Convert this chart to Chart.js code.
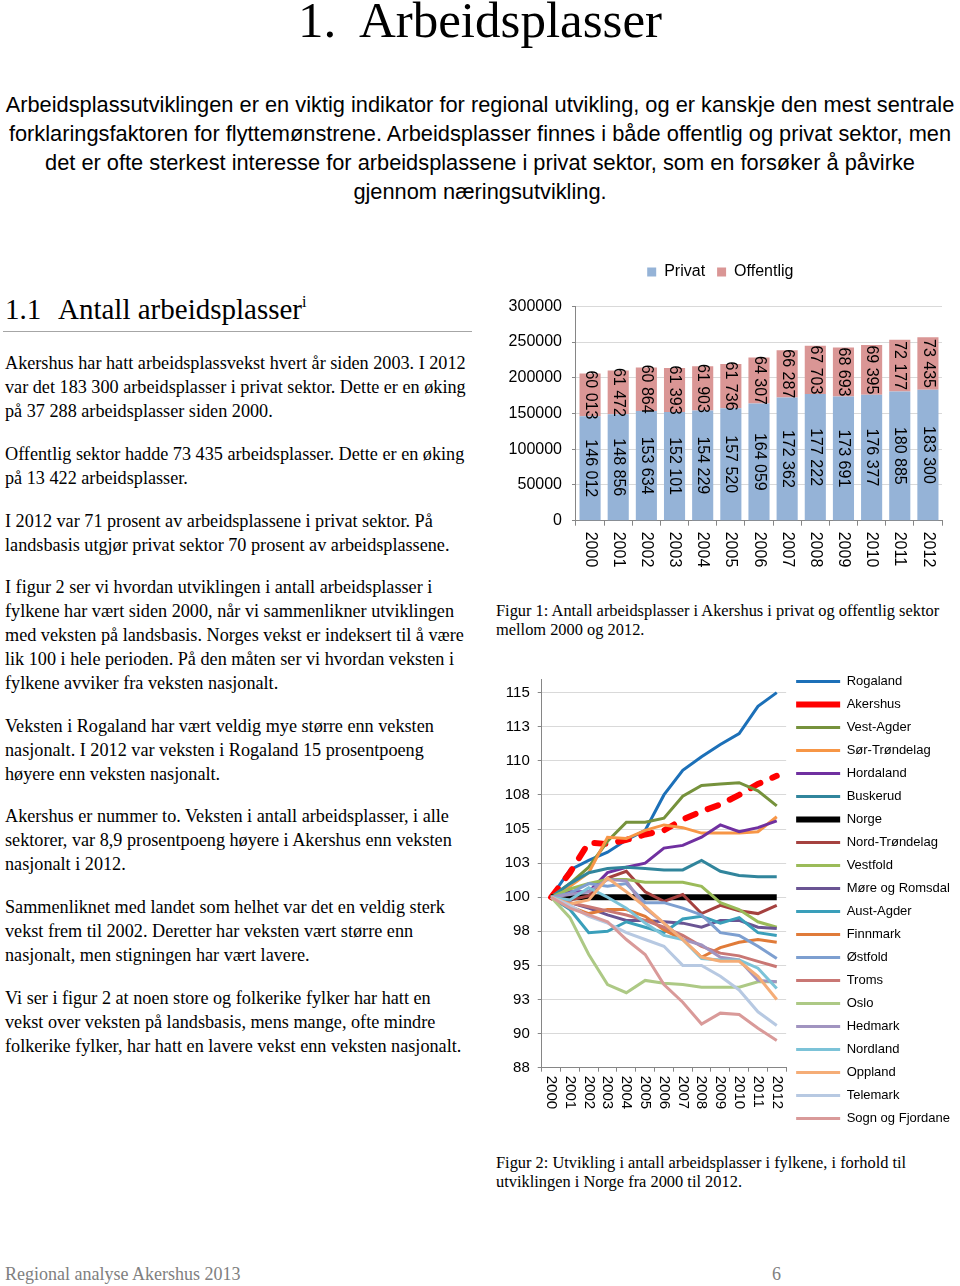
<!DOCTYPE html>
<html lang="no">
<head>
<meta charset="utf-8">
<title>Arbeidsplasser</title>
<script src="https://cdn.jsdelivr.net/npm/chart.js@4.4.0/dist/chart.umd.min.js"></script>
<style>
  html, body { margin: 0; padding: 0; background: #fff; }
  body { width: 960px; height: 1286px; position: relative; overflow: hidden; color: #000;
         font-family: "Liberation Serif", "Times New Roman", serif; }
  .abs { position: absolute; white-space: nowrap; }
  #title { left: 0; width: 960px; top: -5px; text-align: center; font-size: 51px; line-height: 50px; }
  #intro { left: 0; width: 960px; top: 90px; text-align: center; font-size: 21.8px; line-height: 29px;
           font-family: "Liberation Sans", Arial, sans-serif; }
  #h2 { left: 5px; top: 291px; font-size: 29px; line-height: 36px; }
  #h2 .num { display: inline-block; width: 53px; }
  #h2 .sup { font-size: 16px; position: relative; top: -12px; }
  #rule { position: absolute; left: 3px; top: 331px; width: 469px; border-top: 1.5px solid #a6a6a6; }
  .para { position: absolute; left: 5px; font-size: 18.2px; line-height: 24.2px; }
  .para span { display: block; white-space: nowrap; }
  .cap { position: absolute; left: 496px; font-size: 16.4px; line-height: 19px; white-space: nowrap; }
  #foot { left: 5px; top: 1264px; font-size: 18px; line-height: 20px; color: #808080; }
  #page { left: 772px; top: 1264px; font-size: 18px; line-height: 20px; color: #808080; }
  #barChart { position: absolute; left: 495px; top: 252px; }
  #lineChart { position: absolute; left: 495px; top: 665px; }
</style>
</head>
<body>
<div id="title" class="abs">1.&nbsp; Arbeidsplasser</div>
<div id="intro" class="abs">Arbeidsplassutviklingen er en viktig indikator for regional utvikling, og er kanskje den mest sentrale<br>forklaringsfaktoren for flyttemønstrene. Arbeidsplasser finnes i både offentlig og privat sektor, men<br>det er ofte sterkest interesse for arbeidsplassene i privat sektor, som en forsøker å påvirke<br>gjennom næringsutvikling.</div>

<div id="h2" class="abs"><span class="num">1.1</span>Antall arbeidsplasser<span class="sup">i</span></div>
<div id="rule"></div>

<div class="para" style="top:350.5px">
  <span>Akershus har hatt arbeidsplassvekst hvert år siden 2003. I 2012</span>
  <span>var det 183 300 arbeidsplasser i privat sektor. Dette er en øking</span>
  <span>på 37 288 arbeidsplasser siden 2000.</span>
</div>
<div class="para" style="top:441.5px">
  <span>Offentlig sektor hadde 73 435 arbeidsplasser. Dette er en øking</span>
  <span>på 13 422 arbeidsplasser.</span>
</div>
<div class="para" style="top:508.5px">
  <span>I 2012 var 71 prosent av arbeidsplassene i privat sektor. På</span>
  <span>landsbasis utgjør privat sektor 70 prosent av arbeidsplassene.</span>
</div>
<div class="para" style="top:574.5px">
  <span>I figur 2 ser vi hvordan utviklingen i antall arbeidsplasser i</span>
  <span>fylkene har vært siden 2000, når vi sammenlikner utviklingen</span>
  <span>med veksten på landsbasis. Norges vekst er indeksert til å være</span>
  <span>lik 100 i hele perioden. På den måten ser vi hvordan veksten i</span>
  <span>fylkene avviker fra veksten nasjonalt.</span>
</div>
<div class="para" style="top:713.5px">
  <span>Veksten i Rogaland har vært veldig mye større enn veksten</span>
  <span>nasjonalt. I 2012 var veksten i Rogaland 15 prosentpoeng</span>
  <span>høyere enn veksten nasjonalt.</span>
</div>
<div class="para" style="top:803.5px">
  <span>Akershus er nummer to. Veksten i antall arbeidsplasser, i alle</span>
  <span>sektorer, var 8,9 prosentpoeng høyere i Akershus enn veksten</span>
  <span>nasjonalt i 2012.</span>
</div>
<div class="para" style="top:894.5px">
  <span>Sammenliknet med landet som helhet var det en veldig sterk</span>
  <span>vekst frem til 2002. Deretter har veksten vært større enn</span>
  <span>nasjonalt, men stigningen har vært lavere.</span>
</div>
<div class="para" style="top:985.5px">
  <span>Vi ser i figur 2 at noen store og folkerike fylker har hatt en</span>
  <span>vekst over veksten på landsbasis, mens mange, ofte mindre</span>
  <span>folkerike fylker, har hatt en lavere vekst enn veksten nasjonalt.</span>
</div>

<canvas id="barChart" width="465" height="323"></canvas>
<div class="cap" style="top:601px">Figur 1: Antall arbeidsplasser i Akershus i privat og offentlig sektor<br>mellom 2000 og 2012.</div>

<canvas id="lineChart" width="465" height="480"></canvas>
<div class="cap" style="top:1153px">Figur 2: Utvikling i antall arbeidsplasser i fylkene, i forhold til<br>utviklingen i Norge fra 2000 til 2012.</div>

<div id="foot" class="abs">Regional analyse Akershus 2013</div>
<div id="page" class="abs">6</div>

<script>
const years = ['2000', '2001', '2002', '2003', '2004', '2005', '2006', '2007', '2008', '2009', '2010', '2011', '2012'];

// Figur 1
const privat    = [146012, 148856, 153634, 152101, 154229, 157520, 164059, 172362, 177222, 173691, 176377, 180885, 183300];
const offentlig = [60013, 61472, 60864, 61393, 61903, 61736, 64307, 66287, 67703, 68693, 69395, 72177, 73435];

// Figur 2, indeks (Norge = 100)
const fylker = ['Rogaland', 'Akershus', 'Vest-Agder', 'Sør-Trøndelag', 'Hordaland', 'Buskerud', 'Norge',
  'Nord-Trøndelag', 'Vestfold', 'Møre og Romsdal', 'Aust-Agder', 'Finnmark', 'Østfold', 'Troms', 'Oslo',
  'Hedmark', 'Nordland', 'Oppland', 'Telemark', 'Sogn og Fjordane'];
const rogaland      = [100, 102.0, 102.7, 103.3, 104.2, 104.9, 107.5, 109.3, 110.3, 111.2, 112.0, 114.0, 115.0];
const akershus      = [100, 101.8, 104.0, 103.9, 104.2, 104.6, 104.9, 105.7, 106.3, 106.8, 107.5, 108.3, 108.9];
const vestAgder     = [100, 101.0, 102.2, 104.1, 105.5, 105.5, 105.8, 107.4, 108.2, 108.3, 108.4, 107.8, 106.7];
const sorTrondelag  = [100, 100.8, 101.8, 104.4, 104.3, 104.9, 105.3, 105.1, 104.7, 104.7, 104.7, 104.8, 105.9];
const hordaland     = [100, 100.4, 100.4, 101.8, 102.2, 102.5, 103.6, 103.8, 104.4, 105.3, 104.8, 105.1, 105.6];
const buskerud      = [100, 101.0, 101.8, 102.1, 102.2, 102.1, 102.0, 102.0, 102.7, 101.9, 101.6, 101.5, 101.5];
const norge         = [100, 100, 100, 100, 100, 100, 100, 100, 100, 100, 100, 100, 100];
const nordTrondelag = [100, 99.8, 100.1, 101.4, 101.9, 100.4, 99.7, 100.2, 98.8, 99.4, 99.0, 98.8, 99.4];
const vestfold      = [100, 100.6, 101.0, 101.3, 101.3, 101.1, 101.1, 101.1, 100.8, 99.6, 99.1, 98.2, 97.8];
const moreRomsdal   = [100, 99.6, 99.2, 98.7, 98.3, 98.3, 98.2, 98.1, 97.8, 98.3, 98.3, 97.8, 97.7];
const austAgder     = [100, 99.1, 97.4, 97.5, 98.2, 97.8, 97.4, 98.4, 98.6, 98.1, 98.5, 97.4, 97.2];
const finnmark      = [100, 99.3, 98.8, 99.1, 99.1, 98.6, 97.6, 96.9, 95.6, 96.3, 96.7, 96.9, 96.7];
const ostfold       = [100, 100.3, 101.0, 100.8, 101.0, 99.6, 99.6, 99.2, 98.7, 97.4, 97.2, 96.4, 95.5];
const troms         = [100, 99.6, 99.3, 99.0, 98.7, 98.3, 97.8, 97.2, 96.4, 95.9, 95.7, 95.3, 94.9];
const oslo          = [100, 98.5, 95.8, 93.6, 93.0, 93.9, 93.7, 93.6, 93.4, 93.4, 93.4, 93.8, 93.8];
const hedmark       = [100, 100.2, 100.4, 101.3, 101.2, 99.2, 98.1, 96.9, 96.5, 95.6, 95.4, 93.9, 93.8];
const nordland      = [100, 99.8, 100.7, 100.0, 99.2, 98.1, 97.2, 96.9, 95.5, 95.4, 95.4, 94.8, 93.3];
const oppland       = [100, 99.5, 99.8, 101.4, 100.4, 99.3, 98.1, 96.9, 95.6, 95.3, 95.3, 94.2, 92.5];
const telemark      = [100, 99.4, 98.6, 98.1, 97.4, 96.9, 96.4, 95.0, 95.0, 94.2, 93.2, 91.6, 90.6];
const sognFjordane  = [100, 99.2, 98.7, 98.2, 96.9, 95.8, 93.6, 92.3, 90.7, 91.5, 91.4, 90.4, 89.5];

const serier = [rogaland, akershus, vestAgder, sorTrondelag, hordaland, buskerud, norge, nordTrondelag,
  vestfold, moreRomsdal, austAgder, finnmark, ostfold, troms, oslo, hedmark, nordland, oppland, telemark, sognFjordane];

const farger = ['#1c70b8', '#ff0000', '#76923c', '#f79646', '#7030a0', '#31859c', '#000000', '#a5413f',
  '#9bbb59', '#6a5493', '#3a9fba', '#e07b39', '#7d9fd0', '#c97774', '#adc985',
  '#a194c0', '#7cc3d8', '#f5ad77', '#b7c9e2', '#d99a99'];

Chart.defaults.font.family = '"Liberation Sans", Arial, sans-serif';
Chart.defaults.color = '#000';
Chart.defaults.animation = false;

const spaced = v => String(v).replace(/\B(?=(\d{3})+(?!\d))/g, ' ');

// x labels turned 90 degrees clockwise (read top to bottom), like the Excel original
const downLabels = {
  id: 'downLabels',
  afterDraw(chart, args, opts) {
    const x = chart.scales.x;
    const ctx = chart.ctx;
    ctx.save();
    ctx.font = opts.size + 'px ' + Chart.defaults.font.family;
    ctx.fillStyle = '#000';
    ctx.textAlign = 'left';
    ctx.textBaseline = 'middle';
    x.ticks.forEach((t, i) => {
      ctx.save();
      ctx.translate(x.getPixelForTick(i), x.top + opts.offset);
      ctx.rotate(Math.PI / 2);
      ctx.fillText(x.getLabelForValue(t.value), 0, 0);
      ctx.restore();
    });
    ctx.restore();
  }
};

// values written inside the bar segments, also turned
const barValues = {
  id: 'barValues',
  afterDatasetsDraw(chart) {
    const ctx = chart.ctx;
    ctx.save();
    ctx.font = '16px ' + Chart.defaults.font.family;
    ctx.fillStyle = '#000';
    ctx.textAlign = 'center';
    ctx.textBaseline = 'middle';
    chart.data.datasets.forEach((ds, di) => {
      chart.getDatasetMeta(di).data.forEach((bar, i) => {
        ctx.save();
        ctx.translate(bar.x, (bar.y + bar.base) / 2);
        ctx.rotate(Math.PI / 2);
        ctx.fillText(spaced(ds.data[i]), 0, 0);
        ctx.restore();
      });
    });
    ctx.restore();
  }
};

// some air between the top legend and the plot
const legendGap = {
  id: 'legendGap',
  beforeInit(chart) {
    const fit = chart.legend.fit;
    chart.legend.fit = function () {
      fit.call(this);
      this.height += 16.3;
    };
  }
};

new Chart(document.getElementById('barChart'), {
  type: 'bar',
  data: {
    labels: years,
    datasets: [
      { label: 'Privat', data: privat, backgroundColor: '#95b3d7' },
      { label: 'Offentlig', data: offentlig, backgroundColor: '#da9695' }
    ]
  },
  options: {
    responsive: false,
    layout: { padding: { left: 3.6, right: 18 } },
    datasets: { bar: { barPercentage: 0.75, categoryPercentage: 1 } },
    scales: {
      x: {
        stacked: true,
        ticks: { display: false },
        grid: { drawOnChartArea: false, tickLength: 5, tickColor: '#868686' },
        border: { color: '#868686' },
        afterFit: s => { s.height = 54.3; }
      },
      y: {
        stacked: true, min: 0, max: 300000,
        ticks: { stepSize: 50000, padding: 10, font: { size: 16 }, callback: v => v },
        grid: { color: '#d9d9d9', tickLength: 4, tickColor: '#868686' },
        border: { color: '#868686' }
      }
    },
    plugins: {
      legend: { labels: { boxWidth: 9, boxHeight: 9, padding: 12, font: { size: 16 } } },
      tooltip: { enabled: false },
      downLabels: { size: 16, offset: 11 }
    }
  },
  plugins: [legendGap, downLabels, barValues]
});

new Chart(document.getElementById('lineChart'), {
  type: 'line',
  data: {
    labels: years,
    datasets: fylker.map((navn, i) => ({
      label: navn,
      data: serier[i],
      borderColor: farger[i],
      backgroundColor: farger[i],
      borderWidth: navn === 'Norge' || navn === 'Akershus' ? 6 : 3,
      borderDash: navn === 'Akershus' ? [11, 13] : [],
      borderCapStyle: navn === 'Akershus' ? 'round' : 'butt',
      pointRadius: 0,
      tension: 0,
      order: -i
    }))
  },
  options: {
    responsive: false,
    layout: { padding: { left: 1.7 } },
    scales: {
      x: {
        offset: true,
        ticks: { display: false },
        grid: { offset: true, drawOnChartArea: false, tickLength: 4, tickColor: '#868686' },
        border: { color: '#868686' },
        afterFit: s => { s.height = 77.3; }
      },
      y: {
        min: 87.5, max: 116,
        ticks: { stepSize: 2.5, includeBounds: false, padding: 8, font: { size: 15 }, callback: v => Math.round(v) },
        grid: { color: '#d9d9d9', tickLength: 4, tickColor: '#868686' },
        border: { color: '#868686' },
        afterFit: s => { s.paddingTop = 14; }
      }
    },
    plugins: {
      legend: {
        position: 'right',
        align: 'start',
        maxWidth: 200,
        labels: {
          usePointStyle: true, pointStyle: 'line', pointStyleWidth: 44,
          padding: 10, font: { size: 13 },
          sort: (a, b) => a.datasetIndex - b.datasetIndex
        }
      },
      tooltip: { enabled: false },
      downLabels: { size: 15, offset: 8 }
    }
  },
  plugins: [downLabels]
});
</script>
</body>
</html>
